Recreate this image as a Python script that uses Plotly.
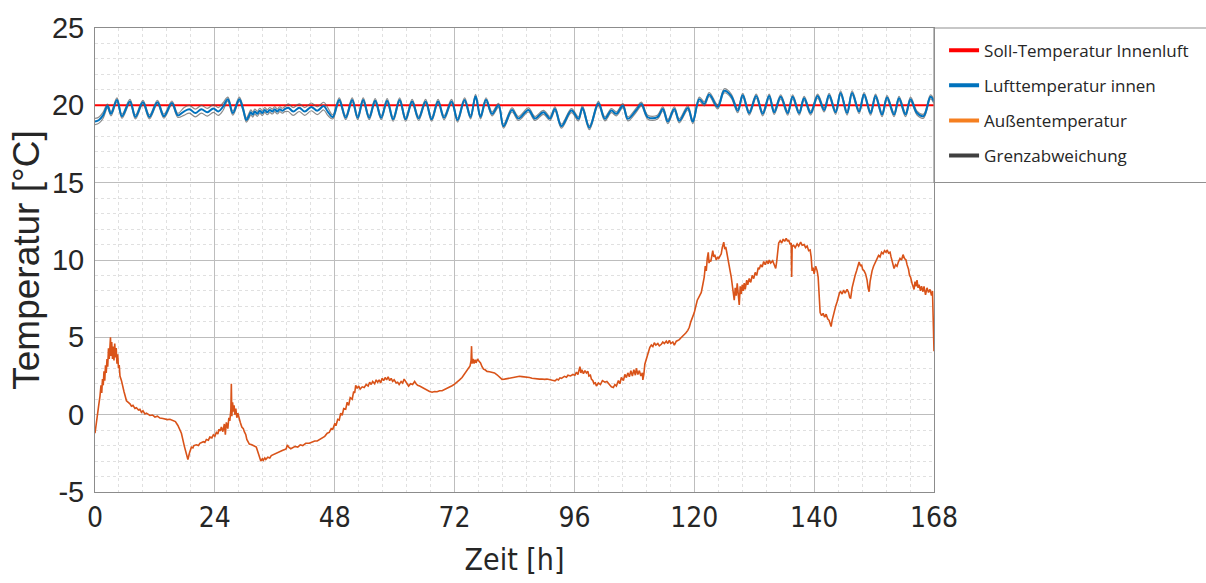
""" Temperaturverlauf Innenluft / Außenluft über eine Woche """
import bisect

import plotly.graph_objects as go

# Soll-Temperatur Innenluft
soll_zeit = [0, 168]
soll_temp = [20, 20]

# Außentemperatur, Paare (Zeit [h], Temperatur [°C])
aussen_messwerte = [
    (0.0, -1.2), (0.4, -0.4), (0.7, 0.5), (1.0, 1.2), (1.2, 1.9), (1.35, 1.4), (1.5, 2.3), (1.65, 1.9),
    (1.8, 2.8), (1.95, 2.2), (2.1, 3.2), (2.25, 2.7), (2.4, 3.6), (2.55, 3.1), (2.7, 4.3), (2.85, 3.6),
    (3.0, 4.8), (3.1, 5.0), (3.2, 3.8), (3.35, 4.7), (3.5, 3.6), (3.65, 4.4), (3.8, 3.5), (3.95, 4.6),
    (4.1, 3.7), (4.25, 4.3), (4.4, 3.3), (4.55, 3.9), (4.7, 3.0), (4.85, 3.2), (5.0, 2.5), (5.3, 2.2),
    (5.8, 1.5), (6.3, 0.9), (7.0, 0.7), (7.3, 0.55), (7.6, 0.6), (8.0, 0.4), (8.3, 0.45), (8.7, 0.3),
    (9.0, 0.35), (9.3, 0.15), (9.6, 0.25), (10.0, 0.05), (10.3, 0.1), (11.0, -0.05), (11.5, -0.02),
    (12.0, -0.15), (12.5, -0.1), (13.0, -0.22), (13.6, -0.25), (14.5, -0.32), (15.0, -0.3), (15.6, -0.37),
    (16.1, -0.45), (16.6, -0.7), (17.3, -1.2), (17.9, -2.05), (18.3, -2.6), (18.6, -2.9), (18.9, -2.5),
    (19.1, -2.3), (19.3, -2.1), (19.6, -2.15), (19.8, -2.0), (20.3, -1.95), (20.7, -2.0), (21.0, -1.85),
    (21.4, -1.8), (21.7, -1.75), (22.0, -1.8), (22.3, -1.6), (22.7, -1.65), (23.0, -1.45), (23.4, -1.5),
    (23.7, -1.3), (24.0, -1.4), (24.3, -1.15), (24.6, -1.25), (24.8, -0.95), (25.1, -1.05), (25.3, -0.8),
    (25.6, -1.1), (25.9, -0.6), (26.1, -1.3), (26.3, -0.5), (26.6, -0.9), (26.8, -0.2), (27.0, -0.4),
    (27.2, 0.3), (27.3, 2.0), (27.4, -0.1), (27.55, 0.8), (27.7, 0.2), (27.85, 0.6), (28.0, 0.0),
    (28.2, 0.4), (28.4, -0.2), (28.6, 0.1), (28.9, -0.4), (29.1, -0.5), (29.4, -0.8), (29.7, -0.9),
    (29.9, -1.1), (30.2, -1.3), (30.4, -1.6), (30.7, -1.8), (30.9, -1.9), (31.4, -1.95), (31.9, -2.05),
    (32.3, -2.1), (32.6, -2.4), (32.9, -2.7), (33.2, -3.0), (33.5, -2.85), (33.7, -2.95), (34.0, -2.8),
    (34.2, -2.9), (34.6, -2.75), (35.0, -2.8), (35.3, -2.65), (35.6, -2.6), (36.1, -2.5), (36.6, -2.45),
    (37.1, -2.35), (37.6, -2.3), (38.0, -2.25), (38.3, -2.2), (38.5, -1.95), (38.8, -2.1), (39.2, -2.2),
    (39.6, -2.15), (40.1, -2.05), (40.6, -2.1), (41.1, -1.95), (41.6, -2.0), (42.2, -1.85), (42.9, -1.85),
    (43.5, -1.75), (44.0, -1.7), (44.5, -1.7), (45.0, -1.6), (45.5, -1.5), (46.0, -1.4), (46.5, -1.2),
    (46.9, -1.15), (47.3, -0.9), (47.6, -0.95), (48.0, -0.6), (48.3, -0.65), (48.6, -0.3), (48.9, -0.35),
    (49.2, 0.1), (49.5, -0.05), (49.8, 0.4), (50.2, 0.35), (50.5, 0.8), (50.8, 0.6), (51.1, 1.1),
    (51.5, 1.0), (51.8, 1.5), (52.0, 1.4), (52.2, 1.9), (52.5, 1.7), (52.8, 1.85), (53.1, 1.65),
    (53.5, 1.8), (53.9, 1.75), (54.3, 1.95), (54.7, 1.85), (55.0, 2.1), (55.3, 1.95), (55.6, 2.15),
    (56.0, 2.0), (56.3, 2.25), (56.6, 2.1), (56.9, 2.25), (57.2, 2.05), (57.5, 2.35), (57.8, 2.2),
    (58.1, 2.4), (58.4, 2.25), (58.7, 2.45), (59.0, 2.2), (59.3, 2.35), (59.6, 2.15), (59.9, 2.25),
    (60.3, 2.05), (60.6, 2.1), (60.9, 1.95), (61.3, 2.15), (61.6, 2.05), (61.9, 2.3), (62.2, 2.1),
    (62.5, 2.0), (62.8, 1.85), (63.2, 2.0), (63.6, 1.95), (64.0, 2.15), (64.3, 2.0), (64.6, 1.9),
    (65.0, 1.85), (65.5, 1.75), (66.0, 1.65), (66.5, 1.6), (67.0, 1.5), (67.5, 1.45), (68.0, 1.5),
    (68.5, 1.48), (69.0, 1.55), (69.5, 1.55), (70.0, 1.62), (70.5, 1.7), (71.0, 1.78), (71.5, 1.87),
    (72.0, 1.98), (72.5, 2.1), (73.0, 2.25), (73.5, 2.4), (73.8, 2.55), (74.2, 2.7), (74.5, 2.9),
    (74.8, 3.04), (75.1, 3.15), (75.3, 3.5), (75.4, 4.43), (75.5, 3.3), (75.7, 3.6), (75.9, 3.3),
    (76.1, 3.55), (76.3, 3.35), (76.6, 3.6), (76.9, 3.45), (77.2, 3.35), (77.5, 3.1), (77.8, 2.94),
    (78.1, 2.9), (78.5, 2.8), (79.0, 2.78), (79.5, 2.72), (80.0, 2.7), (80.5, 2.58), (80.9, 2.45),
    (81.2, 2.35), (81.5, 2.28), (82.0, 2.3), (82.5, 2.32), (83.0, 2.35), (83.5, 2.38), (84.0, 2.42),
    (84.5, 2.45), (85.0, 2.48), (85.5, 2.46), (86.1, 2.45), (86.6, 2.42), (87.0, 2.4), (87.5, 2.36),
    (88.1, 2.32), (88.6, 2.33), (89.0, 2.3), (89.5, 2.31), (90.0, 2.28), (90.5, 2.3), (91.0, 2.25),
    (91.6, 2.22), (92.1, 2.19), (92.5, 2.3), (92.8, 2.25), (93.1, 2.38), (93.4, 2.35), (94.0, 2.48),
    (94.4, 2.42), (94.7, 2.55), (95.2, 2.5), (95.7, 2.6), (96.1, 2.55), (96.4, 2.75), (96.7, 2.6),
    (96.9, 3.0), (97.1, 3.1), (97.3, 2.7), (97.5, 2.9), (97.8, 2.65), (98.1, 2.85), (98.4, 2.7),
    (98.7, 2.8), (98.9, 2.5), (99.2, 2.55), (99.4, 2.3), (99.7, 2.2), (99.9, 2.0), (100.2, 2.05),
    (100.4, 1.85), (100.8, 2.05), (101.2, 1.95), (101.6, 2.2), (102.1, 2.1), (102.5, 2.15), (103.0, 1.95),
    (103.4, 1.8), (103.8, 1.75), (104.1, 1.95), (104.4, 1.85), (104.8, 2.2), (105.1, 2.0), (105.4, 2.4),
    (105.8, 2.2), (106.1, 2.6), (106.4, 2.4), (106.7, 2.7), (107.0, 2.45), (107.3, 2.85), (107.6, 2.5),
    (107.9, 2.9), (108.2, 2.55), (108.4, 3.0), (108.7, 2.6), (109.0, 2.85), (109.3, 2.5), (109.6, 2.7),
    (109.7, 2.25), (109.9, 2.6), (110.1, 3.26), (110.4, 3.6), (110.6, 3.9), (110.9, 4.1), (111.1, 4.35),
    (111.4, 4.5), (111.7, 4.4), (112.0, 4.65), (112.3, 4.5), (112.7, 4.6), (113.0, 4.45), (113.4, 4.55),
    (113.7, 4.7), (114.0, 4.6), (114.4, 4.75), (114.7, 4.6), (115.0, 4.8), (115.3, 4.6), (115.7, 4.7),
    (116.0, 4.5), (116.4, 4.75), (116.7, 4.8), (117.0, 4.85), (117.3, 4.96), (117.8, 5.1), (118.3, 5.28),
    (118.7, 5.45), (119.0, 5.65), (119.3, 6.0), (119.7, 6.3), (120.0, 6.6), (120.3, 7.0), (120.6, 7.4),
    (121.0, 7.65), (121.4, 7.9), (121.7, 8.4), (122.0, 8.9), (122.2, 9.6), (122.4, 9.3), (122.6, 10.1),
    (122.8, 10.5), (122.95, 9.8), (123.1, 10.0), (123.3, 9.9), (123.5, 10.4), (123.7, 10.6), (123.9, 10.2),
    (124.1, 10.35), (124.4, 10.0), (124.7, 10.2), (124.9, 10.1), (125.2, 10.35), (125.4, 10.4),
    (125.6, 10.8), (125.9, 11.15), (126.1, 10.7), (126.3, 10.85), (126.5, 10.5), (126.7, 10.2),
    (127.0, 9.6), (127.4, 8.9), (127.7, 8.2), (127.9, 7.6), (128.0, 7.4), (128.2, 8.2), (128.4, 7.7),
    (128.6, 8.5), (128.8, 7.9), (129.0, 7.1), (129.2, 8.3), (129.4, 7.8), (129.6, 8.4), (129.8, 8.0),
    (130.0, 8.5), (130.2, 8.1), (130.5, 8.7), (130.7, 8.4), (131.0, 8.8), (131.3, 8.55), (131.6, 9.0),
    (131.9, 8.8), (132.2, 9.2), (132.5, 9.0), (132.8, 9.5), (133.0, 9.4), (133.3, 9.7), (133.6, 9.55),
    (133.9, 9.9), (134.2, 9.7), (134.5, 9.95), (134.8, 9.75), (135.0, 10.0), (135.3, 9.8), (135.7, 9.95),
    (136.0, 9.7), (136.3, 9.45), (136.5, 9.9), (136.7, 10.6), (136.9, 11.1), (137.2, 11.25), (137.5, 11.1),
    (137.8, 11.35), (138.1, 11.2), (138.4, 11.4), (138.7, 11.2), (138.9, 11.3), (139.2, 11.0),
    (139.4, 11.1), (139.5, 8.9), (139.6, 10.9), (139.9, 10.95), (140.2, 10.8), (140.6, 11.05),
    (140.9, 10.9), (141.3, 11.15), (141.6, 10.95), (142.0, 11.0), (142.3, 10.8), (142.6, 10.9),
    (142.9, 10.6), (143.2, 10.65), (143.4, 10.2), (143.6, 9.3), (143.8, 9.5), (144.0, 9.1), (144.3, 9.6),
    (144.6, 9.3), (144.8, 8.9), (145.0, 7.5), (145.2, 6.6), (145.5, 6.4), (145.8, 6.55), (146.1, 6.3),
    (146.4, 6.5), (146.7, 6.2), (147.0, 6.1), (147.2, 5.9), (147.4, 5.7), (147.6, 6.1), (147.8, 6.4),
    (148.1, 6.8), (148.3, 7.0), (148.6, 7.3), (148.8, 7.6), (149.1, 7.9), (149.3, 7.95), (149.6, 7.8),
    (149.9, 8.05), (150.2, 7.85), (150.6, 8.1), (150.9, 7.9), (151.1, 7.6), (151.3, 7.5), (151.6, 8.2),
    (151.9, 8.7), (152.2, 9.0), (152.5, 9.3), (152.8, 9.6), (153.0, 9.87), (153.3, 9.6), (153.5, 9.7),
    (153.7, 9.4), (154.0, 9.3), (154.3, 9.1), (154.6, 8.7), (154.8, 8.2), (155.0, 7.95), (155.2, 8.6),
    (155.4, 9.1), (155.6, 9.3), (155.9, 9.6), (156.2, 9.8), (156.6, 10.1), (156.9, 10.3), (157.2, 10.2),
    (157.5, 10.5), (157.8, 10.4), (158.1, 10.6), (158.4, 10.5), (158.6, 10.65), (158.9, 10.45),
    (159.2, 10.5), (159.4, 10.2), (159.6, 9.9), (159.8, 9.6), (160.0, 9.45), (160.3, 9.7), (160.6, 9.6),
    (160.9, 9.9), (161.2, 10.1), (161.5, 10.0), (161.8, 10.35), (162.1, 10.1), (162.4, 10.0),
    (162.6, 9.7), (162.9, 9.4), (163.1, 9.0), (163.3, 8.9), (163.6, 8.5), (163.8, 8.2), (164.0, 8.1),
    (164.2, 8.6), (164.4, 8.3), (164.6, 8.7), (164.8, 8.2), (165.0, 8.4), (165.3, 8.0), (165.5, 8.3),
    (165.8, 7.95), (166.0, 8.3), (166.3, 7.75), (166.6, 8.2), (166.9, 7.9), (167.2, 8.1), (167.5, 7.7),
    (167.7, 8.0), (167.85, 6.5), (167.95, 5.2), (168.0, 4.1),
]

# Lufttemperatur innen (Maxima/Minima), Paare (Zeit [h], Temperatur [°C])
innen_messwerte = [
    (0.0, 18.95), (0.8, 19.05), (1.6, 19.35), (2.5, 19.95), (3.2, 19.45), (4.4, 20.35), (5.4, 19.3),
    (7.0, 20.25), (8.1, 19.25), (9.6, 20.2), (10.9, 19.25), (12.5, 20.2), (13.8, 19.3), (15.4, 20.15),
    (16.6, 19.35), (17.8, 19.6), (18.9, 19.75), (20.1, 19.5), (21.3, 19.75), (22.5, 19.55), (23.7, 19.8),
    (24.7, 19.6), (25.6, 19.9), (26.6, 20.4), (27.6, 19.5), (28.9, 20.4), (29.7, 19.7), (30.3, 19.05),
    (30.8, 19.3), (31.2, 19.55), (31.6, 19.4), (32.0, 19.6), (32.5, 19.45), (33.0, 19.65), (33.5, 19.5),
    (34.0, 19.7), (34.5, 19.55), (35.0, 19.7), (35.5, 19.6), (36.0, 19.75), (36.5, 19.6), (37.0, 19.75),
    (37.5, 19.65), (38.0, 19.75), (38.7, 19.85), (39.7, 19.6), (40.9, 19.85), (42.0, 19.6), (43.3, 19.9),
    (44.5, 19.65), (45.8, 19.95), (46.6, 19.6), (47.6, 19.25), (48.9, 20.35), (50.2, 19.2), (51.5, 20.35),
    (52.6, 19.2), (53.7, 20.35), (54.9, 19.2), (56.1, 20.3), (57.3, 19.2), (58.5, 20.3), (59.7, 19.1),
    (61.0, 20.35), (62.2, 19.1), (63.5, 20.25), (64.8, 19.15), (66.2, 20.25), (67.4, 19.1), (68.7, 20.25),
    (69.9, 19.2), (71.4, 20.25), (72.6, 19.05), (74.0, 20.35), (75.2, 19.25), (76.2, 20.58), (77.2, 19.25),
    (78.3, 20.36), (79.5, 19.45), (80.8, 20.0), (81.8, 18.65), (83.5, 19.7), (84.8, 19.15), (86.8, 19.7),
    (88.1, 19.15), (89.8, 19.55), (91.1, 19.15), (92.1, 19.77), (93.4, 18.65), (95.4, 19.66),
    (96.8, 19.13), (97.6, 19.83), (99.0, 18.55), (100.8, 20.13), (102.1, 19.13), (103.4, 19.66),
    (104.4, 19.45), (105.7, 19.98), (106.7, 19.13), (108.4, 19.7), (109.4, 20.08), (110.7, 19.23),
    (112.6, 19.23), (113.7, 19.77), (114.7, 18.95), (116.0, 19.77), (117.0, 19.0), (118.7, 19.83),
    (119.7, 18.95), (121.0, 20.4), (122.0, 20.1), (123.0, 20.7), (124.7, 19.9), (126.0, 20.94),
    (127.4, 20.6), (128.7, 19.65), (129.7, 20.65), (131.0, 19.5), (132.4, 20.6), (133.7, 19.45),
    (135.0, 20.6), (136.0, 19.55), (137.3, 20.55), (138.7, 19.5), (139.7, 20.55), (141.0, 19.5),
    (142.0, 20.45), (143.3, 19.5), (144.7, 20.6), (146.0, 19.7), (147.0, 20.65), (148.3, 19.55),
    (149.3, 20.8), (150.6, 19.5), (151.6, 20.8), (153.0, 19.6), (154.0, 20.7), (155.3, 19.5),
    (156.3, 20.6), (157.6, 19.4), (158.6, 20.5), (160.0, 19.4), (161.0, 20.45), (162.3, 19.4),
    (163.3, 20.4), (164.6, 19.5), (165.9, 19.3), (167.3, 20.55), (168.0, 20.25),
]

# Grenzabweichung: Abstand der Grenzlinien zur Lufttemperatur je Zeitabschnitt
grenz_abschnitte = [0, 2, 17, 26.3, 30.4, 38.3, 47.0, 168]
grenz_abstand = [0.2, 0.13, 0.25, 0.13, 0.16, 0.25, 0.13]

ROT = '#FF0000'
BLAU = '#0072BD'
ORANGE = '#D95319'
GRAU = '#404040'
TEXT = '#262626'
SCHMAL = 'Liberation Sans Narrow, Arial Narrow, DejaVu Sans Condensed'


def grenzlinien(zeit, temp):
    """ obere und untere Grenzlinie um die Innenlufttemperatur """
    oben, unten = [], []
    for t, v in zip(zeit, temp):
        i = min(bisect.bisect_right(grenz_abschnitte, t) - 1, len(grenz_abstand) - 1)
        oben.append(v + grenz_abstand[i])
        unten.append(v - grenz_abstand[i])
    return oben, unten


zeit_aussen, temp_aussen = zip(*aussen_messwerte)
zeit_innen, temp_innen = zip(*innen_messwerte)
grenz_oben, grenz_unten = grenzlinien(zeit_innen, temp_innen)

fig = go.Figure()

fig.add_trace(go.Scatter(x=soll_zeit, y=soll_temp, mode='lines',
                         line=dict(color=ROT, width=2), showlegend=False))
fig.add_trace(go.Scatter(x=zeit_aussen, y=temp_aussen, mode='lines',
                         line=dict(color=ORANGE, width=1.6), showlegend=False))
for grenze in (grenz_oben, grenz_unten):
    fig.add_trace(go.Scatter(x=zeit_innen, y=grenze, mode='lines',
                             line=dict(color='rgba(90,90,90,0.7)', width=1.2, shape='spline'),
                             showlegend=False))
fig.add_trace(go.Scatter(x=zeit_innen, y=temp_innen, mode='lines',
                         line=dict(color=BLAU, width=2, shape='spline'), showlegend=False))

# Legendeneinträge mit dicken Linien
legende = [('Soll-Temperatur Innenluft', ROT), ('Lufttemperatur innen', BLAU),
           ('Außentemperatur', '#F57F20'), ('Grenzabweichung', GRAU)]
for name, farbe in legende:
    fig.add_trace(go.Scatter(x=[None], y=[None], mode='lines', name=name, legendgroup=name,
                             line=dict(color=farbe, width=4)))

# Rahmen der Legende
fig.add_shape(type='rect', xref='paper', yref='paper', x0=1, x1=1.4, y0=0.667, y1=1,
              line=dict(color='#909090', width=1.2), fillcolor='rgba(0,0,0,0)', layer='above')

x_ticks = [0, 24, 48, 72, 96, 120, 144, 168]
x_ticktext = ['0', '24', '48', '72', '96', '120', '140', '168']
y_ticks = [-5, 0, 5, 10, 15, 20, 25]
y_ticktext = ['-5', '0', '5', '10', '15', '20', '25']

fig.update_layout(
    width=1206, height=583,
    margin=dict(l=95, r=269, t=23, b=91),
    plot_bgcolor='white', paper_bgcolor='white',
    xaxis=dict(range=[0, 168], tickvals=x_ticks, ticktext=x_ticktext,
               tickfont=dict(family=SCHMAL, size=28, color=TEXT),
               title=dict(text='Zeit [h]', standoff=16,
                          font=dict(family=SCHMAL, size=30, color=TEXT)),
               showgrid=True, gridcolor='#BDBDBD', gridwidth=1,
               minor=dict(dtick=4.8, tick0=0, showgrid=True, gridcolor='#E0E0E0', griddash='dot'),
               showline=True, linecolor='#8C8C8C', mirror=True, zeroline=False, ticks=''),
    yaxis=dict(range=[-5, 25], tickvals=y_ticks, ticktext=y_ticktext,
               tickfont=dict(family='Liberation Sans, Arial', size=29, color=TEXT),
               ticklabelstandoff=4,
               title=dict(text='Temperatur [°C]', standoff=0,
                          font=dict(family='Liberation Sans, Arial', size=37, color=TEXT)),
               showgrid=True, gridcolor='#BDBDBD', gridwidth=1,
               minor=dict(dtick=1, showgrid=True, gridcolor='#E0E0E0', griddash='dot'),
               showline=True, linecolor='#8C8C8C', mirror=True, zeroline=False, ticks=''),
    legend=dict(x=1.012, y=0.99, xanchor='left', yanchor='top', traceorder='grouped',
                tracegroupgap=10, bgcolor='rgba(0,0,0,0)', borderwidth=0,
                font=dict(family='Open Sans', size=17, color=TEXT)),
)

fig.write_html("out.html", config={'displayModeBar': False},
               post_script="document.body.style.margin='0';")
